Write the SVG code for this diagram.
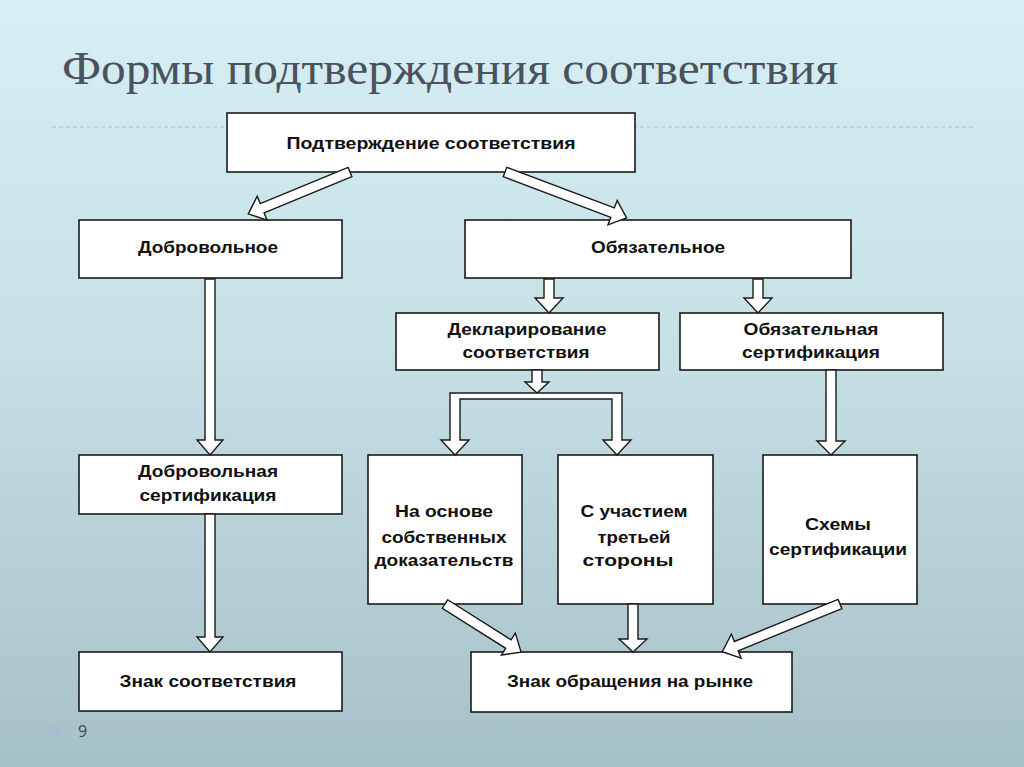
<svg xmlns="http://www.w3.org/2000/svg" width="1024" height="767" viewBox="0 0 1024 767">
  <defs>
    <linearGradient id="bg" x1="0" y1="0" x2="0" y2="1">
      <stop offset="0" stop-color="#d6eef4"/>
      <stop offset="0.45" stop-color="#c6e0e6"/>
      <stop offset="1" stop-color="#a5c0c6"/>
    </linearGradient>
  </defs>
  <style>
    .box { fill: #ffffff; stroke: #1a1a1a; stroke-width: 1.6; }
    .lbl { font-family: "Liberation Sans", Arial, sans-serif; font-weight: bold; font-size: 16px; fill: #111111; text-anchor: middle; }
    .arr { fill: #ffffff; stroke: #1a1a1a; stroke-width: 1.4; stroke-linejoin: miter; }
    .dash { stroke: #a9c2cc; stroke-width: 1; stroke-dasharray: 4 3; fill: none; }
    .title { font-family: "Liberation Serif", "Times New Roman", serif; font-size: 46px; fill: #4a525c; }
  </style>
  <rect x="0" y="0" width="1024" height="767" fill="url(#bg)"/>
  <line class="dash" x1="52" y1="127" x2="975" y2="127"/>
  <line class="dash" x1="52" y1="712" x2="975" y2="712"/>
  <text class="title" x="62" y="84" textLength="776" lengthAdjust="spacingAndGlyphs">Формы подтверждения соответствия</text>
  <polygon points="49,722 63,732 49,742" fill="#a7bdd2"/>
  <text x="78" y="737" font-family="&quot;Open Sans&quot;, &quot;Liberation Sans&quot;, sans-serif" font-size="16" fill="#3f4850">9</text>

  <g id="n-top"><rect class="box" x="227" y="113" width="408" height="59"/><text class="lbl" x="431" y="149" textLength="289" lengthAdjust="spacingAndGlyphs">Подтверждение соответствия</text></g>
  <g id="n-vol"><rect class="box" x="79" y="220" width="263" height="58"/><text class="lbl" x="208" y="253" textLength="140" lengthAdjust="spacingAndGlyphs">Добровольное</text></g>
  <g id="n-mand"><rect class="box" x="465" y="220" width="386" height="58"/><text class="lbl" x="658" y="253" textLength="134" lengthAdjust="spacingAndGlyphs">Обязательное</text></g>
  <g id="n-decl"><rect class="box" x="396" y="313" width="263" height="57"/><text class="lbl" x="527" y="335" textLength="159" lengthAdjust="spacingAndGlyphs">Декларирование</text><text class="lbl" x="526" y="358" textLength="127" lengthAdjust="spacingAndGlyphs">соответствия</text></g>
  <g id="n-mcert"><rect class="box" x="680" y="313" width="263" height="57"/><text class="lbl" x="811" y="335" textLength="135" lengthAdjust="spacingAndGlyphs">Обязательная</text><text class="lbl" x="811" y="358" textLength="138" lengthAdjust="spacingAndGlyphs">сертификация</text></g>
  <g id="n-vcert"><rect class="box" x="79" y="455" width="263" height="59"/><text class="lbl" x="208" y="477" textLength="140" lengthAdjust="spacingAndGlyphs">Добровольная</text><text class="lbl" x="208" y="501" textLength="137" lengthAdjust="spacingAndGlyphs">сертификация</text></g>
  <g id="n-own"><rect class="box" x="368" y="455" width="154" height="149"/><text class="lbl" x="444" y="517" textLength="98" lengthAdjust="spacingAndGlyphs">На основе</text><text class="lbl" x="444" y="543" textLength="125" lengthAdjust="spacingAndGlyphs">собственных</text><text class="lbl" x="444" y="566" textLength="139" lengthAdjust="spacingAndGlyphs">доказательств</text></g>
  <g id="n-third"><rect class="box" x="558" y="455" width="155" height="149"/><text class="lbl" x="634" y="517" textLength="107" lengthAdjust="spacingAndGlyphs">С участием</text><text class="lbl" x="634" y="543" textLength="73" lengthAdjust="spacingAndGlyphs">третьей</text><text class="lbl" x="628" y="566" textLength="91" lengthAdjust="spacingAndGlyphs">стороны</text></g>
  <g id="n-schemes"><rect class="box" x="763" y="455" width="154" height="149"/><text class="lbl" x="838" y="530" textLength="66" lengthAdjust="spacingAndGlyphs">Схемы</text><text class="lbl" x="838" y="555" textLength="138" lengthAdjust="spacingAndGlyphs">сертификации</text></g>
  <g id="n-sign"><rect class="box" x="79" y="652" width="263" height="59"/><text class="lbl" x="208" y="687" textLength="177" lengthAdjust="spacingAndGlyphs">Знак соответствия</text></g>
  <g id="n-market"><rect class="box" x="471" y="652" width="321" height="60"/><text class="lbl" x="630" y="687" textLength="246" lengthAdjust="spacingAndGlyphs">Знак обращения на рынке</text></g>

  <g id="connectors">
    <path class="arr" transform="translate(350,172) rotate(157.6)" d="M0,-5 H95 V-13 L110,0 L95,13 V5 H0 Z"/>
    <path class="arr" transform="translate(505,172) rotate(20.7)" d="M0,-5 H115 V-13 L130,0 L115,13 V5 H0 Z"/>
    <path class="arr" d="M205,279 H215 V440 H223 L210,455 L197,440 H205 Z"/>
    <path class="arr" d="M205,514 H215 V637 H223 L210,652 L197,637 H205 Z"/>
    <path class="arr" d="M544,279 H554 V298 H563 L549,313 L535,298 H544 Z"/>
    <path class="arr" d="M753,279 H763 V298 H772 L758,313 L744,298 H753 Z"/>
    <path class="arr" d="M826,370 H836 V441 H845 L831,455 L817,441 H826 Z"/>
    <path class="arr" d="M532,370 H542 V382 H549 L537,393 L525,382 H532 Z"/>
    <path class="arr" d="M450,393 H622 V440 H631 L617,455 L603,440 H612 V399 H460 V440 H469 L455,455 L441,440 H450 Z"/>
    <path class="arr" d="M628,604 H638 V639 H647 L633,652 L619,639 H628 Z"/>
    <path class="arr" transform="translate(445,604) rotate(32.3)" d="M0,-5 H75 V-13 L90,0 L75,13 V5 H0 Z"/>
    <path class="arr" transform="translate(840,604) rotate(157.9)" d="M0,-5 H112 V-13 L127,0 L112,13 V5 H0 Z"/>
  </g>
</svg>
